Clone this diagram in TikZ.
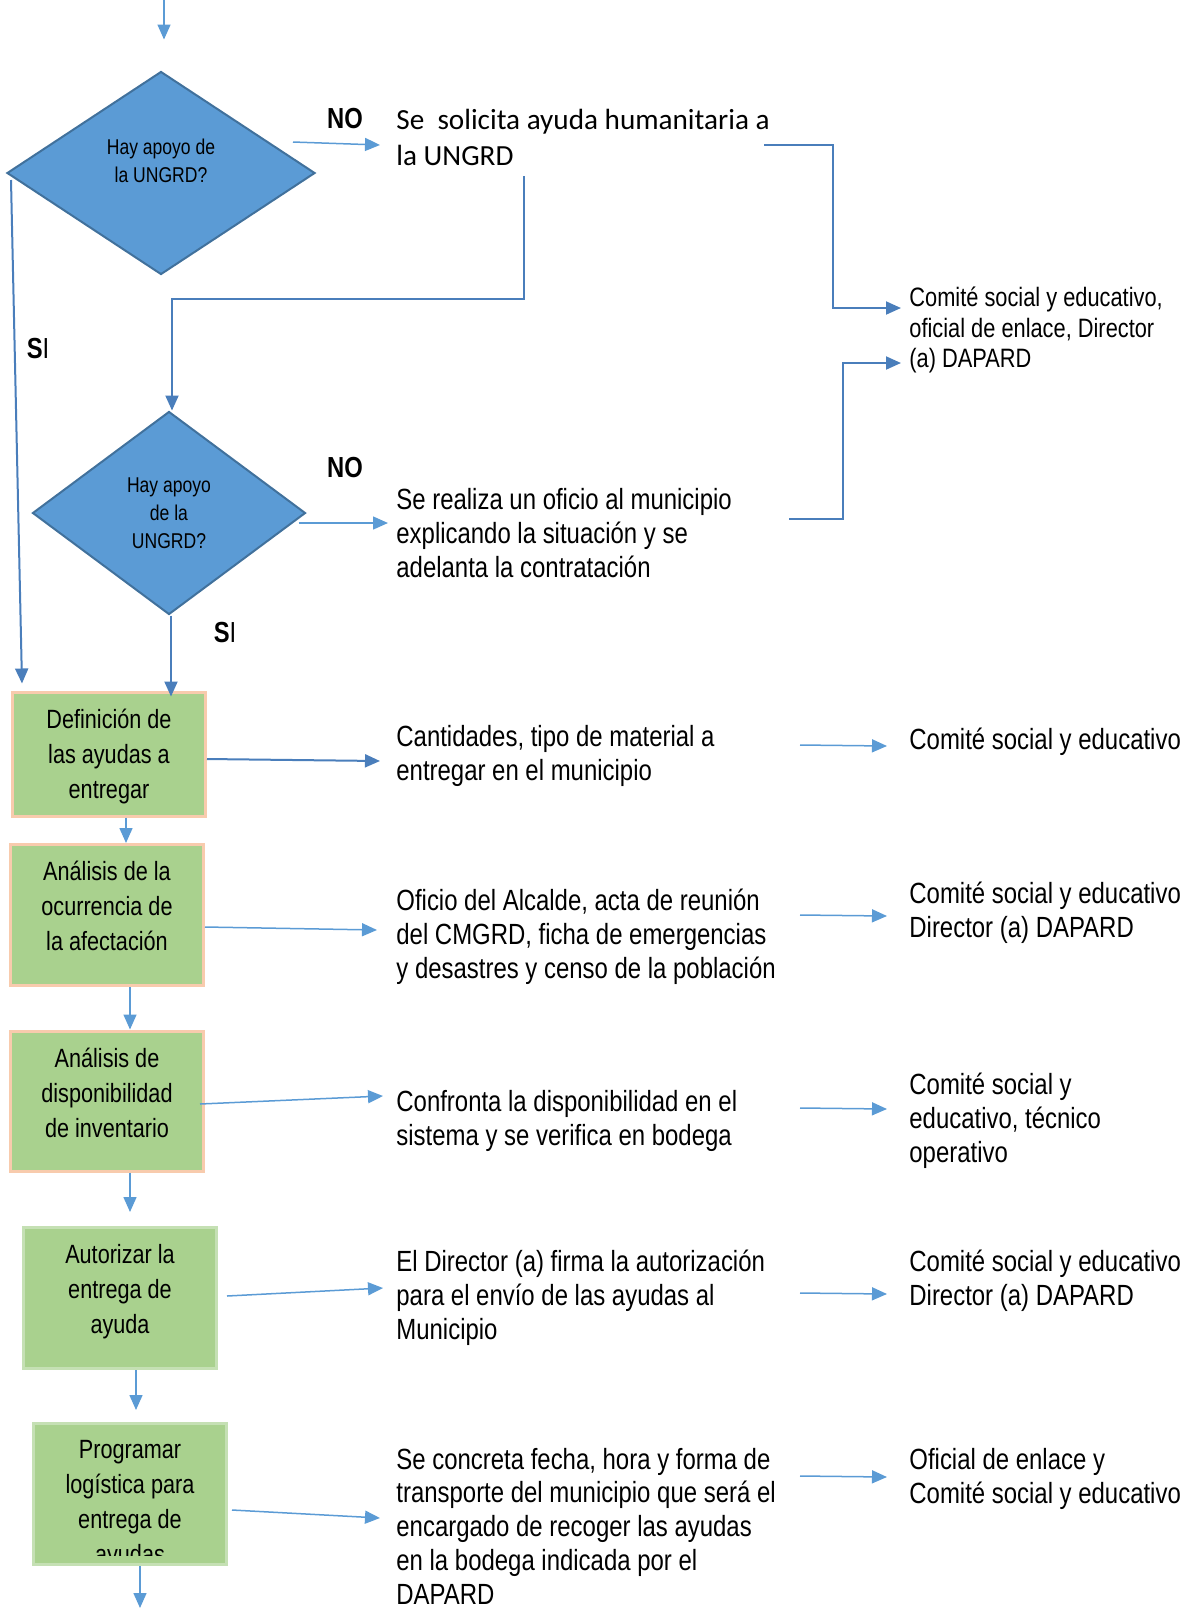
\documentclass[tikz,border=0pt]{standalone}
\usepackage{fontspec}
\setmainfont{Liberation Sans}[FakeStretch=0.82]
\newfontfamily\calfont{Carlito}
\usetikzlibrary{arrows.meta, shapes.geometric}
\definecolor{diafill}{HTML}{5B9BD5}
\definecolor{diadraw}{HTML}{41719C}
\definecolor{lineblue}{HTML}{5B9BD5}
\definecolor{darkblue}{HTML}{4A7EBB}
\definecolor{boxfill}{HTML}{A9D18E}
\definecolor{peach}{HTML}{F8CBAD}
\definecolor{palegreen}{HTML}{C5E0B4}
\tikzset{decision/.style = {shape = diamond, draw = diadraw, fill = diafill, line width = 1pt, inner sep = 0pt, align = center, font = \fontsize{10.7}{14}\selectfont}}
\tikzset{stepbox/.style = {shape = rectangle, draw = peach, fill = boxfill, line width = 1.5pt, minimum width = 96.5pt}}
\tikzset{steptext/.style = {anchor = north, align = center, inner sep = 0pt, font = \fontsize{13.2}{17.5}\selectfont}}
\tikzset{note/.style = {anchor = west, align = left, inner xsep = 8pt, inner ysep = 0pt, font = \fontsize{14.6}{16.9}\selectfont}}
\tikzset{who/.style = {anchor = west, align = left, inner xsep = 11pt, inner ysep = 0pt, font = \fontsize{14.6}{17}\selectfont}}
\tikzset{answer/.style = {font = \fontsize{14.5}{17}\selectfont}}
\tikzset{flow/.style = {draw = lineblue, line width = 0.75pt, -{Triangle[length = 7.5pt, width = 6.5pt]}}}
\tikzset{flowdark/.style = {flow, draw = darkblue, line width = 1pt}}

\begin{document}
\begin{tikzpicture}[x = 0.5pt, y = -0.5pt]
	\useasboundingbox (0, 0) rectangle (1188, 1608);

	\coordinate (in) at (164, 0);
	\coordinate (out) at (140, 1608);
	\coordinate (e1) at (764, 145);
	\coordinate (e2) at (524, 176);
	\coordinate (e3) at (789, 519);

	\node[decision, minimum width = 154pt, minimum height = 101.5pt] (q1) at (161, 173) {};
	\node[decision, fill = none, draw = none] (q1txt) at (161, 161) {Hay apoyo de\\la UNGRD?};
	\node[decision, minimum width = 136.5pt, minimum height = 101.5pt] (q2) at (169, 513) {Hay apoyo\\de la\\UNGRD?};

	\node[answer] (no1) at (345, 119) {\bfseries NO};
	\node[answer] (no2) at (345, 468) {\bfseries NO};
	\node[answer] (si1) at (38, 349) {{\bfseries S}I};
	\node[answer] (si2) at (225, 633) {{\bfseries S}I};

	\node[stepbox, minimum height = 62pt] (b1) at (109, 754) {};
	\node[steptext] (b1txt) at ([yshift = -9pt]b1.north) {Definición de\\las ayudas a\\entregar};
	\node[stepbox, minimum height = 70.5pt] (b2) at (107, 915) {};
	\node[steptext] (b2txt) at ([yshift = -9pt]b2.north) {Análisis de la\\ocurrencia de\\la afectación};
	\node[stepbox, minimum height = 70pt] (b3) at (107, 1101) {};
	\node[steptext] (b3txt) at ([yshift = -9pt]b3.north) {Análisis de\\disponibilidad\\de inventario};
	\node[stepbox, draw = palegreen, minimum height = 70.5pt] (b4) at (120, 1298) {};
	\node[steptext] (b4txt) at ([yshift = -9pt]b4.north) {Autorizar la\\entrega de\\ayuda};
	\node[stepbox, draw = palegreen, minimum height = 70.5pt] (b5) at (130, 1494) {};
	\begin{scope}
		\clip (36, 1426) rectangle (225, 1555);
		\node[steptext] (b5txt) at ([yshift = -9pt]b5.north) {Programar\\logística para\\entrega de\\ayudas};
	\end{scope}

	\node[note, font = \calfont\fontsize{14.6}{18}\selectfont] (t1) at (380, 137) {Se\ \ solicita ayuda humanitaria a\\la UNGRD};
	\node[note] (t2) at (380, 533) {Se realiza un oficio al municipio\\explicando la situación y se\\adelanta la contratación};
	\node[note] (t3) at (380, 756) {Cantidades, tipo de material a\\entregar en el municipio};
	\node[note] (t4) at (380, 937) {Oficio del Alcalde, acta de reunión\\del CMGRD, ficha de emergencias\\y desastres y censo de la población};
	\node[note] (t5) at (380, 1121) {Confronta la disponibilidad en el\\sistema y se verifica en bodega};
	\node[note] (t6) at (380, 1298) {El Director (a) firma la autorización\\para el envío de las ayudas al\\Municipio};
	\node[note] (t7) at (380, 1526) {Se concreta fecha, hora y forma de\\transporte del municipio que será el\\encargado de recoger las ayudas\\en la bodega indicada por el\\DAPARD};

	\node[who, inner xsep = 4pt, font = \fontsize{13.3}{15.4}\selectfont] (r1) at (901, 330) {Comité social y educativo,\\oficial de enlace, Director\\(a) DAPARD};
	\node[who] (r2) at (887, 742) {Comité social y educativo};
	\node[who] (r3) at (887, 913) {Comité social y educativo\\Director (a) DAPARD};
	\node[who] (r4) at (887, 1121) {Comité social y\\educativo, técnico\\operativo};
	\node[who] (r5) at (887, 1281) {Comité social y educativo\\Director (a) DAPARD};
	\node[who] (r6) at (887, 1479) {Oficial de enlace y\\Comité social y educativo};

	\draw[flow] (in) -- ([xshift = 1.5pt, yshift = 15.5pt]q1.north);
	\draw[flow] ([xshift = -11.5pt, yshift = 15.5pt]q1.east) -- ([yshift = -4pt]t1.west);
	\draw[flowdark] (e1) -| ([xshift = -34pt, yshift = 11pt]r1.west) -- ([yshift = 11pt]r1.west);
	\draw[flowdark] (e2) -- ++(0, 123) -| ([xshift = 1.5pt]q2.north);
	\draw[flowdark] ([xshift = 2.5pt, yshift = -3.5pt]q1.west) -- ([xshift = 5.5pt, yshift = 3.5pt]b1.north west);
	\draw[flow] ([xshift = -4pt, yshift = -5pt]q2.east) -- ([xshift = 4pt, yshift = 5pt]t2.west);
	\draw[flowdark] (e3) -| ([xshift = -29pt, yshift = -16.5pt]r1.west) -- ([yshift = -16.5pt]r1.west);
	\draw[flowdark] ([xshift = 1pt]q2.south) -- ([xshift = 31pt, yshift = -3pt]b1.north);

	\draw[flowdark] ([yshift = -2.5pt]b1.east) -- ([yshift = -2.5pt]t3.west);
	\draw[flow] ([yshift = -6pt]b2.east) -- ([xshift = -1.5pt, yshift = 3.5pt]t4.west);
	\draw[flow] ([xshift = -2.5pt, yshift = -1.5pt]b3.east) -- ([xshift = 1.5pt, yshift = 12.5pt]t5.west);
	\draw[flow] ([xshift = 4.5pt, yshift = 1pt]b4.east) -- ([xshift = 1.5pt, yshift = 5pt]t6.west);
	\draw[flow] ([xshift = 2pt, yshift = -8pt]b5.east) -- ([yshift = 4pt]t7.west);

	\draw[flow] ([xshift = -43.5pt, yshift = -1.5pt]r2.west) -- ([yshift = -2pt]r2.west);
	\draw[flow] ([xshift = -43.5pt, yshift = -1pt]r3.west) -- ([yshift = -1.5pt]r3.west);
	\draw[flow] ([xshift = -43.5pt, yshift = 6.5pt]r4.west) -- ([yshift = 6pt]r4.west);
	\draw[flow] ([xshift = -43.5pt, yshift = -6pt]r5.west) -- ([yshift = -6.5pt]r5.west);
	\draw[flow] ([xshift = -43.5pt, yshift = 1.5pt]r6.west) -- ([yshift = 1pt]r6.west);

	\draw[flow] ([xshift = 8.5pt]b1.south) -- ([xshift = 9.5pt]b2.north);
	\draw[flow] ([xshift = 11.5pt]b2.south) -- ([xshift = 11.5pt]b3.north);
	\draw[flow] ([xshift = 11.5pt]b3.south) -- ([xshift = 5pt, yshift = 7pt]b4.north);
	\draw[flow] ([xshift = 8pt]b4.south) -- ([xshift = 3pt, yshift = 6pt]b5.north);
	\draw[flow] ([xshift = 5pt]b5.south) -- (out);
\end{tikzpicture}
\end{document}
